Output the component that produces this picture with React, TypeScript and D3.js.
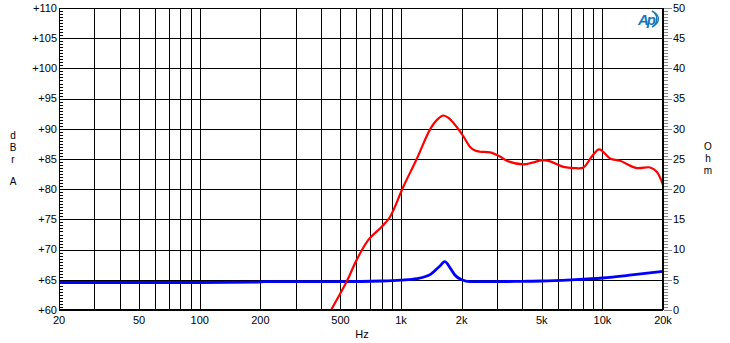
import React from 'react';
import * as d3 from 'd3';

// frequency response (dBrA, left axis)
const RED_FREQ = [449, 537, 602, 688, 802, 881, 1026, 1196, 1394, 1520, 1622, 1720, 1891, 2043, 2203, 2332, 2468, 2768, 3103, 3350, 4056, 4500, 5000, 5500, 6400, 7200, 8050, 8860, 9640, 10920, 12240, 14820, 17260, 18620, 20000];
const RED_DB = [60, 64.7, 68.3, 71.6, 73.8, 75.4, 80.4, 85.0, 89.9, 91.6, 92.2, 91.8, 90.3, 88.7, 87.0, 86.4, 86.2, 86.1, 85.4, 84.7, 84.1, 84.4, 84.8, 84.6, 83.7, 83.5, 83.6, 85.4, 86.6, 85.1, 84.7, 83.5, 83.6, 82.9, 80.7];

// impedance (Ohm, right axis)
const BLUE_FREQ = [20, 100, 190, 210, 500, 800, 1000, 1200, 1400, 1550, 1650, 1750, 1850, 2000, 2200, 3000, 4000, 5000, 7000, 10000, 14000, 20000];
const BLUE_OHM = [4.55, 4.55, 4.6, 4.7, 4.7, 4.8, 4.95, 5.2, 5.9, 7.2, 8.0, 7.0, 5.8, 5.0, 4.7, 4.7, 4.75, 4.8, 5.0, 5.3, 5.8, 6.4];

const X_GRID = [20, 30, 40, 50, 60, 70, 80, 90, 100, 200, 300, 400, 500, 600, 700, 800, 900, 1000, 2000, 3000, 4000, 5000, 6000, 7000, 8000, 9000, 10000, 20000];
const X_LABELS: [number, string][] = [[20, '20'], [50, '50'], [100, '100'], [200, '200'], [500, '500'], [1000, '1k'], [2000, '2k'], [5000, '5k'], [10000, '10k'], [20000, '20k']];
const DB_TICKS = [60, 65, 70, 75, 80, 85, 90, 95, 100, 105, 110];
const OHM_TICKS = [0, 5, 10, 15, 20, 25, 30, 35, 40, 45, 50];

const W = 730;
const H = 343;
const M = { left: 59, right: 663, top: 8, bottom: 310 };
const FONT = "'Liberation Sans', Arial, sans-serif";

export default function App() {
  const x = d3.scaleLog().domain([20, 20000]).range([M.left, M.right]);
  const yL = d3.scaleLinear().domain([60, 110]).range([M.bottom, M.top]);
  const yR = d3.scaleLinear().domain([0, 50]).range([M.bottom, M.top]);

  const redLine = d3.line<number>()
    .x((_, i) => x(RED_FREQ[i]))
    .y(d => yL(d))
    .curve(d3.curveCatmullRom.alpha(0.5));
  const blueLine = d3.line<number>()
    .x((_, i) => x(BLUE_FREQ[i]))
    .y(d => yR(d))
    .curve(d3.curveMonotoneX);

  const minorL = d3.range(60, 110.01, 0.5);
  const minorR = d3.range(0, 50.01, 0.5);

  return (
    <div style={{ position: 'fixed', left: 0, top: 0 }}>
      <svg width={W} height={H} style={{ display: 'block', background: '#fff' }} fontFamily={FONT}>
        <defs>
          <clipPath id="plot">
            <rect x={M.left} y={M.top} width={M.right - M.left} height={M.bottom - M.top} />
          </clipPath>
        </defs>
        {/* grid */}
        {X_GRID.map(f => (
          <line key={'vx' + f} x1={Math.round(x(f)) + 0.5} x2={Math.round(x(f)) + 0.5} y1={M.top} y2={M.bottom}
            stroke="#000" strokeWidth={1} />
        ))}
        {DB_TICKS.map(v => (
          <line key={'hy' + v} x1={M.left} x2={M.right} y1={Math.round(yL(v)) + 0.5} y2={Math.round(yL(v)) + 0.5}
            stroke="#000" strokeWidth={1} />
        ))}
        {/* left minor ticks */}
        {minorL.map(v => (
          <line key={'ml' + v} x1={M.left} x2={M.left + 4} y1={Math.round(yL(v)) + 0.5} y2={Math.round(yL(v)) + 0.5}
            stroke="#000" strokeWidth={1} />
        ))}
        {/* right ticks */}
        {minorR.map(v => (
          <line key={'mr' + v} x1={M.right + 1} x2={M.right + (v % 5 === 0 ? 9 : 5)}
            y1={Math.round(yR(v)) + 0.5} y2={Math.round(yR(v)) + 0.5}
            stroke="#888" strokeWidth={1} />
        ))}
        {/* curves */}
        <g clipPath="url(#plot)">
          <path d={blueLine(BLUE_OHM) || ''} fill="none" stroke="#0000ff" strokeWidth={2.8} />
          <path d={redLine(RED_DB) || ''} fill="none" stroke="#ff0000" strokeWidth={2.2} />
        </g>
        {/* frame */}
        <rect x={M.left + 0.5} y={M.top + 0.5} width={M.right - M.left - 1} height={M.bottom - M.top - 1}
          fill="none" stroke="#000" strokeWidth={1} />
        {/* left labels */}
        {DB_TICKS.map(v => (
          <text key={'ll' + v} x={M.left - 2} y={yL(v)} dy="0.35em" textAnchor="end" fontSize={11} fill="#000">
            {'+' + v}
          </text>
        ))}
        {OHM_TICKS.map(v => (
          <text key={'rl' + v} x={M.right + 10} y={yR(v)} dy="0.35em" textAnchor="start" fontSize={11} fill="#000">
            {v}
          </text>
        ))}
        {X_LABELS.map(([f, s]) => (
          <text key={'xl' + f} x={x(f)} y={324} textAnchor="middle" fontSize={11} fill="#000">{s}</text>
        ))}
        <text x={362} y={338} textAnchor="middle" fontSize={11} fill="#000">Hz</text>
        {/* axis titles */}
        {[['d', 135], ['B', 147], ['r', 159], ['A', 181]].map(([c, yy]) => (
          <text key={'t' + c} x={13} y={yy as number} dy="0.35em" textAnchor="middle" fontSize={10} fill="#000">{c}</text>
        ))}
        {[['O', 146], ['h', 158], ['m', 170]].map(([c, yy]) => (
          <text key={'o' + c} x={708} y={yy as number} dy="0.35em" textAnchor="middle" fontSize={10} fill="#000">{c}</text>
        ))}
        {/* AP logo */}
        <g fill="#1478b8" stroke="none">
          <text x={646} y={25} textAnchor="middle" fontSize={15} fontWeight="bold" fontStyle="italic" fill="#1478b8"
            letterSpacing={-2}>Ap</text>
          <path d="M652,11 A9,9 0 0 1 652,27" fill="none" stroke="#1478b8" strokeWidth={1.6} />
          <path d="M655,13 A7,7 0 0 1 655,25" fill="none" stroke="#1478b8" strokeWidth={1.2} />
        </g>
      </svg>
    </div>
  );
}
